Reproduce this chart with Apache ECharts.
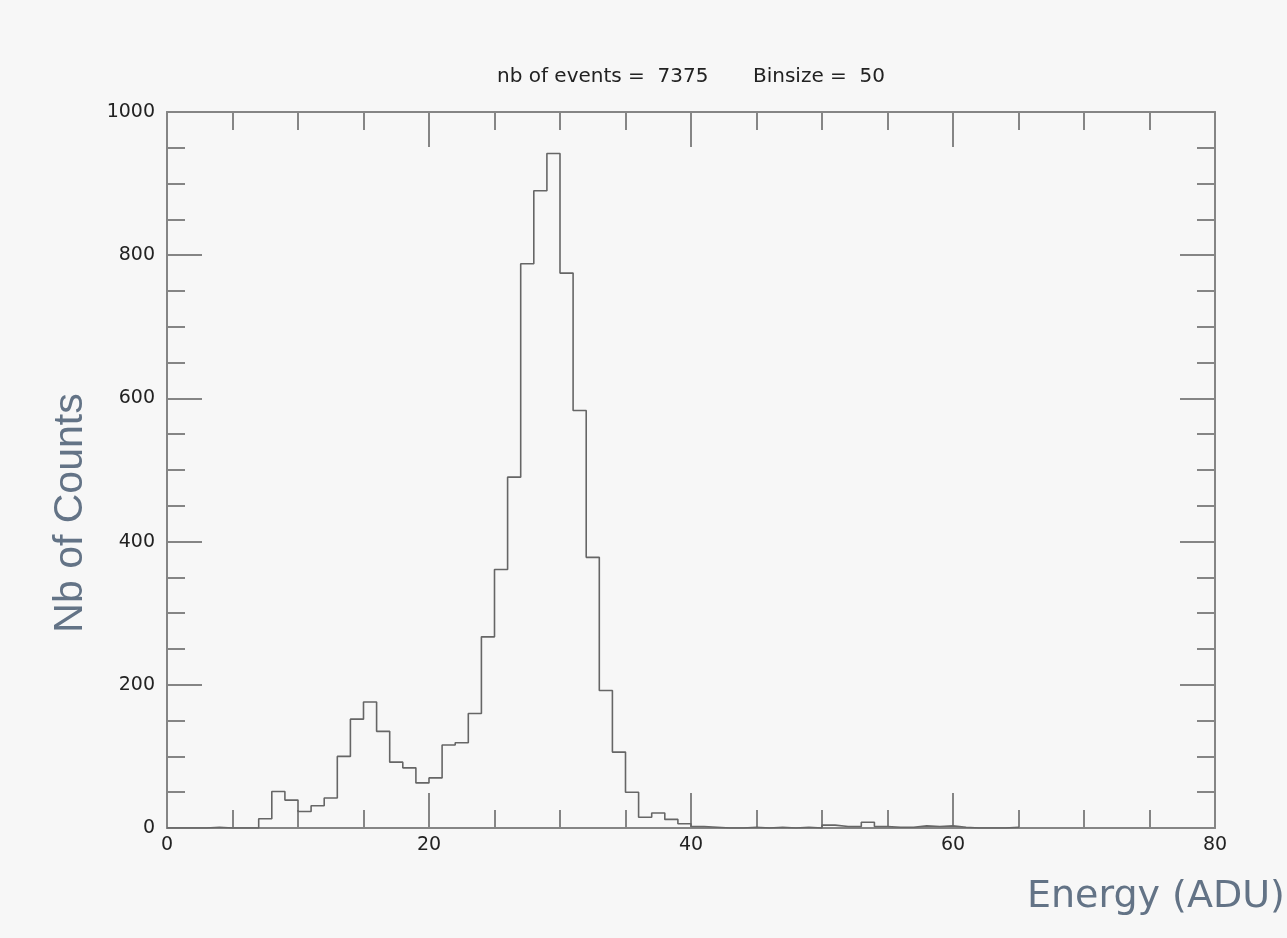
<!DOCTYPE html>
<html>
<head>
<meta charset="utf-8">
<title>Energy spectrum</title>
<script src="https://cdn.jsdelivr.net/npm/echarts@6/dist/echarts.min.js"></script>
<style>
  html, body { margin: 0; padding: 0; background: #f7f7f7; }
  #chart { width: 1287px; height: 938px; }
</style>
</head>
<body>
<div id="chart"></div>
<script>
// Lower edge of each energy bin (ADU), bin width 1
const binEdges = [
  0, 1, 2, 3, 4, 5, 6, 7, 8, 9,
  10, 11, 12, 13, 14, 15, 16, 17, 18, 19,
  20, 21, 22, 23, 24, 25, 26, 27, 28, 29,
  30, 31, 32, 33, 34, 35, 36, 37, 38, 39,
  40, 41, 42, 43, 44, 45, 46, 47, 48, 49,
  50, 51, 52, 53, 54, 55, 56, 57, 58, 59,
  60, 61, 62, 63, 64
];
// Counts per bin
const counts = [
  0, 0, 0, 1, 0, 0, 0, 13, 51, 39,
  23, 31, 42, 100, 152, 176, 135, 92, 84, 63,
  70, 116, 119, 160, 267, 361, 490, 788, 890, 942,
  775, 583, 378, 192, 106, 50, 15, 21, 12, 6,
  2, 1, 0, 0, 1, 0, 1, 0, 1, 0,
  4, 2, 2, 8, 2, 1, 1, 3, 2, 3,
  1, 0, 0, 0, 1
];
const binWidth = 1;

const eventCount = 7375;
const binSize = 50;
const headerText = 'nb of events =  ' + eventCount + '       Binsize =  ' + binSize;
const xAxisTitle = 'Energy (ADU)';
const yAxisTitle = 'Nb of Counts';

// Step outline: each bin is drawn from its lower edge to the next edge
const stepData = binEdges.map((e, i) => [e, counts[i]]);
stepData.push([binEdges[binEdges.length - 1] + binWidth, 0]);

const axisGray = '#858585';
const tickFont = { fontFamily: 'DejaVu Sans', fontSize: 19, color: '#222' };

function boxAxis(pos, showLabels, isX) {
  return {
    type: 'value',
    position: pos,
    min: 0,
    max: isX ? 80 : 1000,
    interval: isX ? 20 : 200,
    axisLine: { show: true, onZero: false, lineStyle: { color: axisGray, width: 2 } },
    axisTick: { show: true, inside: true, length: 35, lineStyle: { color: axisGray, width: 2 } },
    minorTick: { show: true, splitNumber: 4, length: 18, lineStyle: { color: axisGray, width: 2 } },
    splitLine: { show: false },
    minorSplitLine: { show: false },
    axisLabel: Object.assign({
      show: showLabels,
      margin: isX ? 8 : 12,
      formatter: v => String(v)
    }, tickFont)
  };
}

const chart = echarts.init(document.getElementById('chart'), null, { renderer: 'canvas' });
chart.setOption({
  backgroundColor: '#f7f7f7',
  animation: false,
  grid: { left: 167, right: 72, top: 112, bottom: 110, containLabel: false, outerBoundsMode: 'none' },
  xAxis: [boxAxis('bottom', true, true), boxAxis('top', false, true)],
  yAxis: [boxAxis('left', true, false), boxAxis('right', false, false)],
  series: [{
    type: 'line',
    step: 'end',
    data: stepData,
    symbol: 'none',
    xAxisIndex: 0,
    yAxisIndex: 0,
    lineStyle: { color: '#666', width: 1.6 },
    z: 1
  }],
  graphic: [
    {
      type: 'text', x: 691, y: 77,
      style: { text: headerText, fontFamily: 'DejaVu Sans', fontSize: 20, fill: '#222',
               textAlign: 'center', textVerticalAlign: 'middle' }
    },
    {
      type: 'text', x: 1027, y: 897,
      style: { text: xAxisTitle, fontFamily: 'DejaVu Sans', fontSize: 38, fill: '#637386',
               textAlign: 'left', textVerticalAlign: 'middle' }
    },
    {
      type: 'text', x: 71, y: 513, rotation: Math.PI / 2,
      style: { text: yAxisTitle, fontFamily: 'Liberation Sans', fontSize: 41, fill: '#637386',
               textAlign: 'center', textVerticalAlign: 'middle' }
    }
  ]
});
</script>
</body>
</html>
